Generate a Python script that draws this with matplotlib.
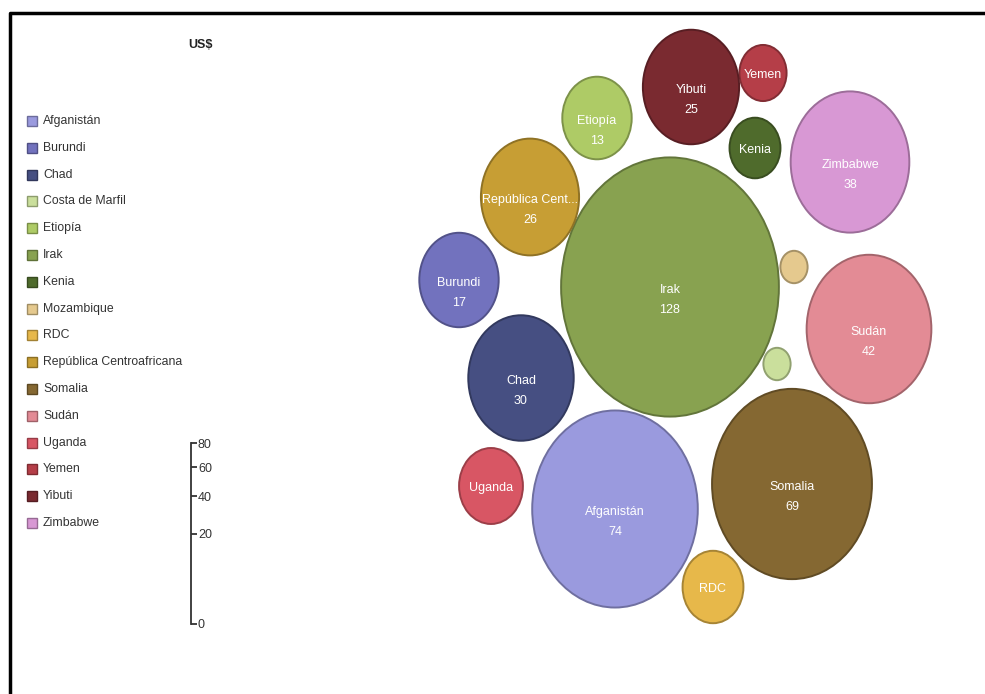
import numpy as np
import matplotlib
matplotlib.use("Agg")
import matplotlib.pyplot as plt
from matplotlib.patches import Ellipse, Rectangle
from matplotlib.lines import Line2D
from matplotlib.colors import to_rgb

plt.rcParams['font.family'] = ['Liberation Sans', 'DejaVu Sans']

countries = ['Afganistán', 'Burundi', 'Chad', 'Costa de Marfil', 'Etiopía', 'Irak',
             'Kenia', 'Mozambique', 'RDC', 'República Centroafricana', 'Somalia',
             'Sudán', 'Uganda', 'Yemen', 'Yibuti', 'Zimbabwe']
values = [74, 17, 30, 2, 13, 128, 7, 2, 10, 26, 69, 42, 11, 6, 25, 38]
colors = ['#9a9ade', '#7272be', '#464f82', '#cadf9c', '#aecb66', '#88a250',
          '#4f6b2c', '#e5c98e', '#e7b84a', '#c79e34', '#856832', '#e38b95',
          '#d85664', '#b53e48', '#7a2a30', '#d898d4']
short_names = {'República Centroafricana': 'República Cent...'}

# packed layout: bubble centres in pixels (x, y from top)
bubble_xy = [(615, 509), (459, 280), (521, 378), (777, 364), (597, 118), (670, 287),
             (755, 148), (794, 267), (713, 587), (530, 197), (792, 484), (869, 329),
             (491, 486), (763, 73), (691, 87), (850, 162)]

scale_ticks = [0, 20, 40, 60, 80]

W, H = 985, 694
fig = plt.figure(figsize=(W / 100, H / 100), dpi=100)
ax = fig.add_axes([0, 0, 1, 1])
ax.set_xlim(0, W)
ax.set_ylim(H, 0)
ax.axis('off')

# bubbles: diameter ~ sqrt(value), picture is stretched vertically
k = 19.25
stretch = 1.19
for name, v, c, (x, y) in zip(countries, values, colors, bubble_xy):
    w = k * np.sqrt(v)
    edge = tuple(np.array(to_rgb(c)) * 0.72)
    ax.add_patch(Ellipse((x, y), w, w * stretch, facecolor=c, edgecolor=edge, lw=1.4))
    label = short_names.get(name, name)
    if v >= 12:
        ax.text(x, y + 3, label, color='white', fontsize=9, ha='center', va='center')
        ax.text(x, y + 23, str(v), color='white', fontsize=9, ha='center', va='center')
    elif v >= 5:
        ax.text(x, y + 2, label, color='white', fontsize=9, ha='center', va='center')

# legend
ax.text(200, 45, 'US$', fontsize=9, fontweight='bold', ha='center', va='center', color='#222222')
for i, (name, c) in enumerate(zip(countries, colors)):
    yy = 121 + i * 26.8
    edge = tuple(np.array(to_rgb(c)) * 0.7)
    ax.add_patch(Rectangle((27, yy - 5), 10, 10, facecolor=c, edgecolor=edge, lw=1))
    ax.text(43, yy, name, fontsize=8.8, ha='left', va='center', color='#333333')

# size scale (sqrt)
sax = fig.add_axes([150 / W, (H - 624) / H, 41 / W, 181 / H])
sax.set_yscale('function', functions=(np.sqrt, np.square))
sax.set_ylim(0, 80)
sax.set_xticks([])
sax.set_yticks(scale_ticks)
sax.yaxis.tick_right()
for s in ['left', 'top', 'bottom']:
    sax.spines[s].set_visible(False)
sax.spines['right'].set_color('#333333')
sax.spines['right'].set_linewidth(1.3)
sax.tick_params(axis='y', direction='out', length=4, width=1.3, pad=1,
                labelsize=9, colors='#333333')
sax.patch.set_alpha(0)

# frame (top and left edges)
fig.add_artist(Line2D([10 / W, 10 / W, 1], [0, 1 - 13 / H, 1 - 13 / H],
                      color='black', lw=2.5))

fig.savefig('out.png', dpi=100)
